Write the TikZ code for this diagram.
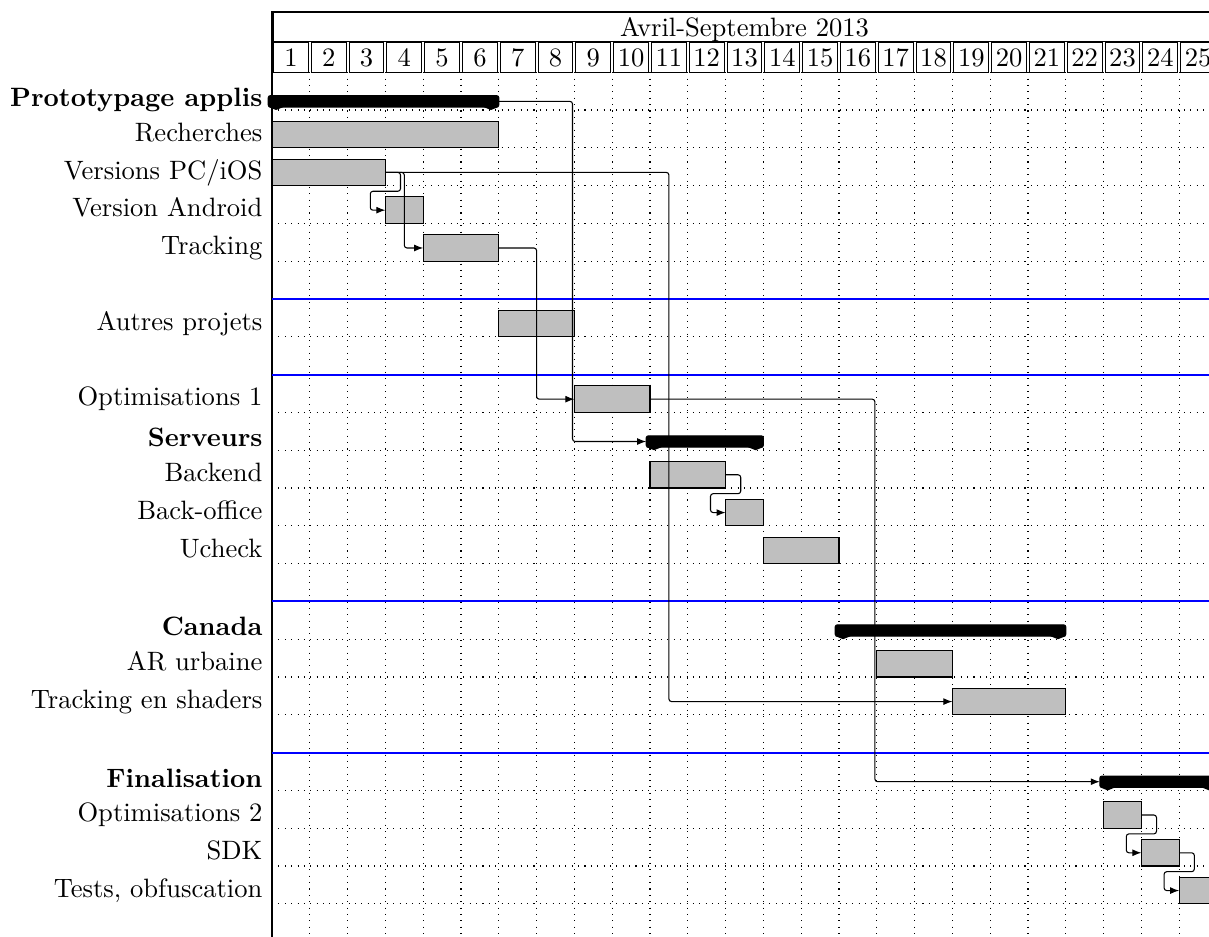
\documentclass[tikz,border=0pt]{standalone}
\usetikzlibrary{arrows.meta}
\begin{document}
\begin{tikzpicture}[x=0.5cm,y=-0.5cm,
  barbox/.style={draw=black, fill=black!25, line width=0.4pt, inner sep=0pt, outer sep=0pt, minimum height=0.35cm, anchor=north west},
  grpbox/.style={draw=black, fill=black, line width=0.4pt, inner sep=0pt, outer sep=0pt, minimum height=0.15cm, anchor=north west, rounded corners=0.8pt},
  foot/.style={fill=black},
  lbl/.style={anchor=base east, inner sep=0pt},
  grplbl/.style={anchor=base east, inner sep=0pt, font=\bfseries},
  gridline/.style={dotted, line width=0.4pt},
  sepline/.style={blue, line width=0.75pt},
  frameline/.style={line width=0.5pt},
  hdrbox/.style={draw, line width=0.4pt},
  hdrtxt/.style={anchor=base, inner sep=0pt},
  lnk/.style={-{Latex[length=3.4pt,width=2.6pt]}, rounded corners=1pt, line width=0.4pt}
]
\useasboundingbox (-7.196,-1.910) rectangle (24.788,22.852);
\clip (-7.196,-1.910) rectangle (24.788,22.852);

% grid
\foreach \i in {1,...,25} \draw[gridline] (\i,0) -- (\i,23);
\foreach \j in {1,...,22} \draw[gridline] (0,\j) -- (25.5,\j);

% header
\draw[frameline] (0,23) -- (0,-1.6) -- (25.5,-1.6);
\draw[hdrbox] (0.04,-1.58) rectangle (24.96,-0.8);
\node[hdrtxt] (title) at (12.5,-0.94) {Avril-Septembre 2013};
\foreach \i in {1,...,25} {
  \draw[hdrbox] (\i-0.96,-0.78) rectangle (\i-0.04,0);
  \node[hdrtxt] (n\i) at (\i-0.5,-0.16) {\i};
}

% separators
\foreach \j in {6,8,14,18} \draw[sepline] (0,\j) -- (25.5,\j);

% labels
\node[grplbl] (l0) at (-0.24,0.91) {Prototypage applis};
\node[lbl] (l1) at (-0.24,1.83) {Recherches};
\node[lbl] (l2) at (-0.24,2.83) {Versions PC/iOS};
\node[lbl] (l3) at (-0.24,3.83) {Version Android};
\node[lbl] (l4) at (-0.24,4.83) {Tracking};
\node[lbl] (l6) at (-0.24,6.83) {Autres projets};
\node[lbl] (l8) at (-0.24,8.83) {Optimisations 1};
\node[grplbl] (l9) at (-0.24,9.91) {Serveurs};
\node[lbl] (l10) at (-0.24,10.83) {Backend};
\node[lbl] (l11) at (-0.24,11.83) {Back-office};
\node[lbl] (l12) at (-0.24,12.83) {Ucheck};
\node[grplbl] (l14) at (-0.24,14.91) {Canada};
\node[lbl] (l15) at (-0.24,15.83) {AR urbaine};
\node[lbl] (l16) at (-0.24,16.83) {Tracking en shaders};
\node[grplbl] (l18) at (-0.24,18.91) {Finalisation};
\node[lbl] (l19) at (-0.24,19.83) {Optimisations 2};
\node[lbl] (l20) at (-0.24,20.83) {SDK};
\node[lbl] (l21) at (-0.24,21.83) {Tests, obfuscation};

% bars
\node[barbox, minimum width=3cm] (rech) at (0,1.3) {};
\node[barbox, minimum width=1.5cm] (vers) at (0,2.3) {};
\node[barbox, minimum width=0.5cm] (andr) at (3,3.3) {};
\node[barbox, minimum width=1cm] (track) at (4,4.3) {};
\node[barbox, minimum width=1cm] (autres) at (6,6.3) {};
\node[barbox, minimum width=1cm] (opt1) at (8,8.3) {};
\node[barbox, minimum width=1cm] (backend) at (10,10.3) {};
\node[barbox, minimum width=0.5cm] (backoff) at (12,11.3) {};
\node[barbox, minimum width=1cm] (ucheck) at (13,12.3) {};
\node[barbox, minimum width=1cm] (ar) at (16,15.3) {};
\node[barbox, minimum width=1.5cm] (shaders) at (18,16.3) {};
\node[barbox, minimum width=0.5cm] (opt2) at (22,19.3) {};
\node[barbox, minimum width=0.5cm] (sdk) at (23,20.3) {};
\node[barbox, minimum width=0.5cm] (tests) at (24,21.3) {};

% groups
\node[grpbox, minimum width=3.05cm] (proto) at (-0.1,0.62) {};
\node[grpbox, minimum width=1.55cm] (serv) at (9.9,9.62) {};
\node[grpbox, minimum width=3.05cm] (canada) at (14.9,14.62) {};
\node[grpbox, minimum width=1.55cm] (final) at (21.9,18.62) {};
\foreach \g in {proto,serv,canada,final} {
  \fill[foot] ([xshift=0.1pt]\g.south west) -- ++(0.2,0.08) -- ++(0.2,-0.08) -- cycle;
  \fill[foot] ([xshift=-0.1pt]\g.south east) -- ++(-0.2,0.08) -- ++(-0.2,-0.08) -- cycle;
}

% links
\draw[lnk] (proto.east) -- ++(1.95,0) |- (serv.west);
\draw[lnk] (vers.east) -- ++(0.4,0) -- ++(0,0.5) -| ([xshift=-0.2cm]andr.west) -- (andr.west);
\draw[lnk] (vers.east) -- ++(0.5,0) |- (track.west);
\draw[lnk] (vers.east) -- ++(7.5,0) |- (shaders.west);
\draw[lnk] (track.east) -- ++(1,0) |- (opt1.west);
\draw[lnk] (opt1.east) -- ++(5.95,0) |- (final.west);
\draw[lnk] (backend.east) -- ++(0.4,0) -- ++(0,0.5) -| ([xshift=-0.2cm]backoff.west) -- (backoff.west);
\draw[lnk] (opt2.east) -- ++(0.4,0) -- ++(0,0.5) -| ([xshift=-0.2cm]sdk.west) -- (sdk.west);
\draw[lnk] (sdk.east) -- ++(0.4,0) -- ++(0,0.5) -| ([xshift=-0.2cm]tests.west) -- (tests.west);
\end{tikzpicture}
\end{document}
